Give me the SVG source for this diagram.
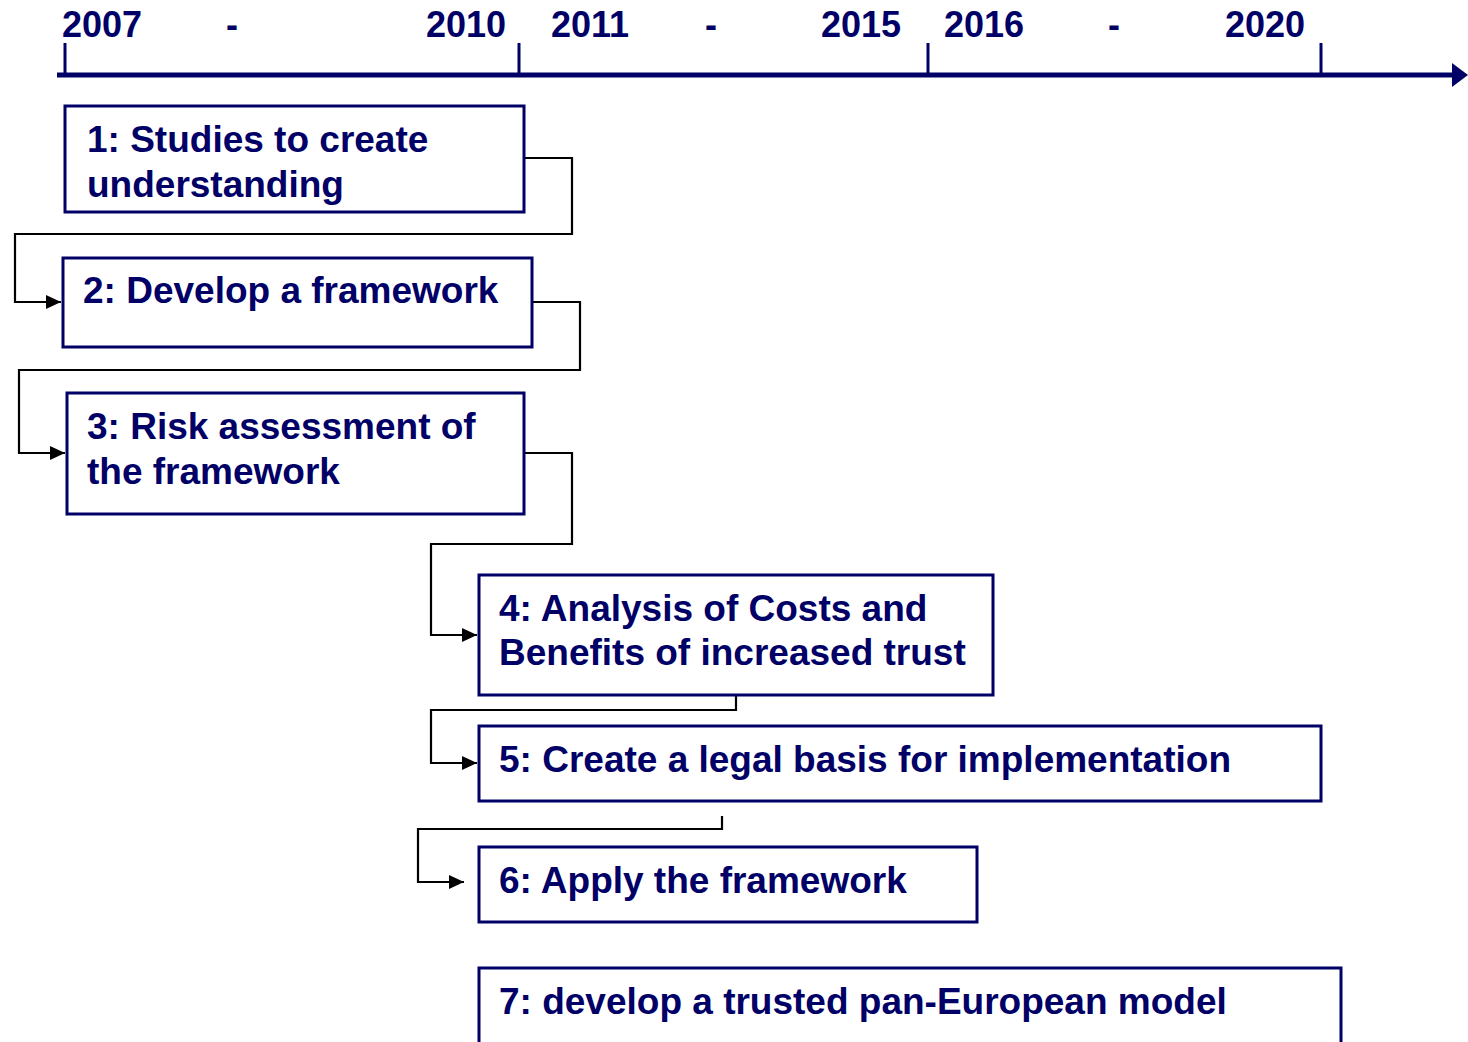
<svg xmlns="http://www.w3.org/2000/svg" width="1468" height="1042" viewBox="0 0 1468 1042">
<style>
text{font-family:"Liberation Sans",Arial,sans-serif;font-weight:bold;fill:#000066}
.yr{font-size:36px}
.lbl{font-size:37px}
.box{fill:#fff;stroke:#000066;stroke-width:3}
.tl{stroke:#000066;fill:none}
.con{stroke:#000;stroke-width:2.2;fill:none;marker-end:url(#ah)}
</style>
<defs>
<marker id="ah" viewBox="0 0 15 14" refX="15" refY="7" markerWidth="15" markerHeight="14" markerUnits="userSpaceOnUse" orient="auto">
<path d="M0,0 L15,7 L0,14 Z" fill="#000"/>
</marker>
</defs>
<rect width="1468" height="1042" fill="#fff"/>
<g id="timeline">
<line class="tl" x1="57" y1="75" x2="1456" y2="75" stroke-width="5"/>
<path d="M1452,63 L1468,75 L1452,87 Z" fill="#000066"/>
<line class="tl" x1="65" y1="43" x2="65" y2="75" stroke-width="3"/>
<line class="tl" x1="519" y1="43" x2="519" y2="75" stroke-width="3"/>
<line class="tl" x1="928" y1="43" x2="928" y2="75" stroke-width="3"/>
<line class="tl" x1="1321" y1="43" x2="1321" y2="75" stroke-width="3"/>
<text class="yr" x="62" y="37">2007</text>
<text class="yr" x="232" y="37" text-anchor="middle">-</text>
<text class="yr" x="426" y="37">2010</text>
<text class="yr" x="551" y="37">2011</text>
<text class="yr" x="711" y="37" text-anchor="middle">-</text>
<text class="yr" x="821" y="37">2015</text>
<text class="yr" x="944" y="37">2016</text>
<text class="yr" x="1114" y="37" text-anchor="middle">-</text>
<text class="yr" x="1225" y="37">2020</text>
</g>
<g id="connectors">
<path class="con" d="M524,158 H572 V234 H15 V302 H61"/>
<path class="con" d="M532,302 H580 V370 H19 V453 H65"/>
<path class="con" d="M524,453 H572 V544 H431 V635 H477"/>
<path class="con" d="M736,695 V710 H431 V763 H477"/>
<path class="con" d="M722,816 V829 H418 V882 H464"/>
</g>
<g id="node1">
<rect class="box" x="65" y="106" width="459" height="106"/>
<text class="lbl" x="87" y="152">1: Studies to create</text>
<text class="lbl" x="87" y="197">understanding</text>
</g>
<g id="node2">
<rect class="box" x="63" y="258" width="469" height="89"/>
<text class="lbl" x="83" y="303">2: Develop a framework</text>
</g>
<g id="node3">
<rect class="box" x="67" y="393" width="457" height="121"/>
<text class="lbl" x="87" y="439">3: Risk assessment of</text>
<text class="lbl" x="87" y="484">the framework</text>
</g>
<g id="node4">
<rect class="box" x="479" y="575" width="514" height="120"/>
<text class="lbl" x="499" y="621">4: Analysis of Costs and</text>
<text class="lbl" x="499" y="665">Benefits of increased trust</text>
</g>
<g id="node5">
<rect class="box" x="479" y="726" width="842" height="75"/>
<text class="lbl" x="499" y="772">5: Create a legal basis for implementation</text>
</g>
<g id="node6">
<rect class="box" x="479" y="847" width="498" height="75"/>
<text class="lbl" x="499" y="893">6: Apply the framework</text>
</g>
<g id="node7">
<rect class="box" x="479" y="968" width="862" height="76"/>
<text class="lbl" x="499" y="1014">7: develop a trusted pan-European model</text>
</g>
</svg>
